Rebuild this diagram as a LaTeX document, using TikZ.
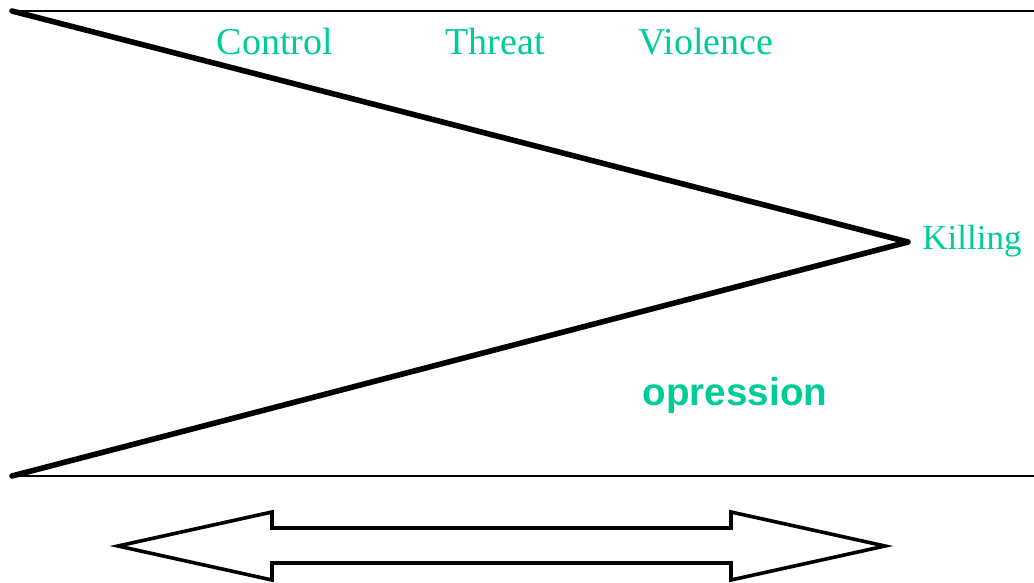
\documentclass[tikz,border=0pt]{standalone}
\usepackage{fontspec}
\setmainfont{Liberation Serif}
\newfontfamily\arialbold{Liberation Sans}
\definecolor{oppgreen}{RGB}{0,204,153}
\tikzset{
  stage/.style={text=oppgreen,font=\fontsize{19}{22}\selectfont,inner sep=0pt},
  edge/.style={line width=2.8pt,line cap=round,line join=round},
  rim/.style={line width=0.6pt},
}

\begin{document}
\begin{tikzpicture}[x=0.5pt,y=-0.5pt]
      \useasboundingbox (0,0) rectangle (1034,583);
      % frame lines
      \draw[rim] (12,11) -- (1034,11);
      \draw[rim] (12,476) -- (1034,476);
      % the wedge
      \coordinate (top) at (12,11);
      \coordinate (tip) at (908,242);
      \coordinate (bottom) at (12,476);
      \draw[edge] (top) -- (tip) -- (bottom);
      % labels
      \foreach \name/\x in {Control/275,Threat/495,Violence/706}
      \node[stage] (\name) at (\x,42) {\name};
      \node[stage,font=\fontsize{17.5}{20}\selectfont,anchor=west] (killing) at (922,241) {Killing};
      \node[text=oppgreen,font=\arialbold\bfseries\fontsize{19.3}{22}\selectfont] (opression) at (735,396) {opression};
      % double arrow
      \draw[line width=1.8pt,line join=miter] (118,546) -- (272,512) -- (272,528) -- (731,528) -- (731,512)
        -- (885,546) -- (731,580) -- (731,563) -- (272,563) -- (272,580) -- cycle;
    \end{tikzpicture}
\end{document}
